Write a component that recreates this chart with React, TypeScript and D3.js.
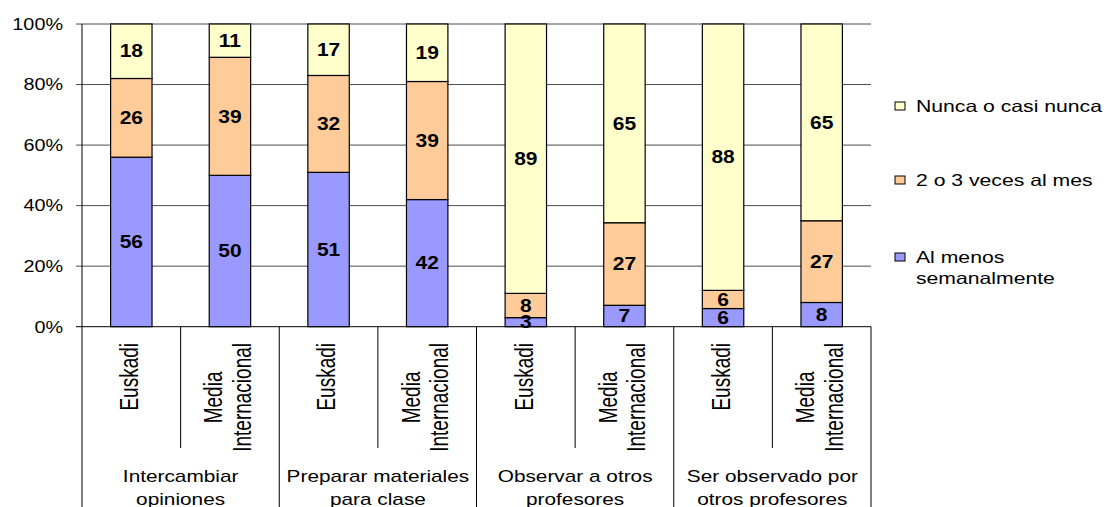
import React, { useEffect, useRef } from 'react';
import * as d3 from 'd3';

// bar labels (one per bar), lines split with \n
const barLabels = [
  'Euskadi', 'Media\nInternacional',
  'Euskadi', 'Media\nInternacional',
  'Euskadi', 'Media\nInternacional',
  'Euskadi', 'Media\nInternacional',
];
const groupLabels = [
  ['Intercambiar', 'opiniones'],
  ['Preparar materiales', 'para clase'],
  ['Observar a otros', 'profesores'],
  ['Ser observado por', 'otros profesores'],
];
const seriesNames = ['Al menos semanalmente', '2 o 3 veces al mes', 'Nunca o casi nunca'];
const semanal = [56, 50, 51, 42, 3, 7, 6, 8];
const mensual = [26, 39, 32, 39, 8, 27, 6, 27];
const nunca = [18, 11, 17, 19, 89, 65, 88, 65];
const yTicks = [0, 0.2, 0.4, 0.6, 0.8, 1];
const colors = ['#9999FF', '#FFCC99', '#FFFFCC'];

const FONT = '"Liberation Sans", Arial, sans-serif';

function Chart() {
  const ref = useRef<SVGSVGElement>(null);

  useEffect(() => {
    const svg = d3.select(ref.current);
    svg.selectAll('*').remove();

    const left = 82, right = 871, top = 24, bottom = 326.7;
    const rows = barLabels.map((b, i) => ({
      key: String(i),
      s0: semanal[i],
      s1: mensual[i],
      s2: nunca[i],
    }));
    const keys = ['s0', 's1', 's2'];
    const raw = [semanal, mensual, nunca];

    const x = d3.scaleBand<string>()
      .domain(rows.map(d => d.key))
      .range([left, right])
      .paddingInner(0.58)
      .paddingOuter(0.29);
    const xs = d3.scaleBand<string>().domain(rows.map(d => d.key)).range([left, right]).padding(0);
    const y = d3.scaleLinear().domain([0, 1]).range([bottom, top]);

    const stacked = d3.stack<any>().keys(keys).offset(d3.stackOffsetExpand)(rows);

    const g = svg.append('g').attr('font-family', FONT);

    // gridlines
    g.append('g')
      .selectAll('line')
      .data(yTicks)
      .enter()
      .append('line')
      .attr('x1', left - 6)
      .attr('x2', right)
      .attr('y1', d => y(d))
      .attr('y2', d => y(d))
      .attr('stroke', d => (d === 0 ? '#000' : '#4d4d4d'))
      .attr('stroke-width', 1);

    // y tick labels
    g.append('g')
      .selectAll('text')
      .data(yTicks)
      .enter()
      .append('text')
      .attr('transform', d => 'translate(63,' + (y(d) + 5.8) + ') scale(1.2,1)')
      .attr('text-anchor', 'end')
      .attr('font-size', 16.5)
      .attr('fill', '#000')
      .text(d => d3.format('.0%')(d));

    // y axis line
    g.append('line')
      .attr('x1', left).attr('x2', left)
      .attr('y1', top).attr('y2', 507)
      .attr('stroke', '#000');

    // category separators
    const seps = d3.range(1, rows.length + 1);
    g.append('g')
      .selectAll('line')
      .data(seps)
      .enter()
      .append('line')
      .attr('x1', i => left + xs.step() * i)
      .attr('x2', i => left + xs.step() * i)
      .attr('y1', bottom)
      .attr('y2', i => (i % 2 === 0 ? 507 : 448))
      .attr('stroke', '#000');

    // bars
    const layer = g.append('g')
      .selectAll('g')
      .data(stacked)
      .enter()
      .append('g')
      .attr('fill', (d, i) => colors[i]);

    layer.selectAll('rect')
      .data(d => d)
      .enter()
      .append('rect')
      .attr('x', d => x(d.data.key)!)
      .attr('width', x.bandwidth())
      .attr('y', d => y(d[1]))
      .attr('height', d => y(d[0]) - y(d[1]))
      .attr('stroke', '#000')
      .attr('stroke-width', 1.2);

    // value labels
    stacked.forEach((s, si) => {
      g.append('g')
        .selectAll('text')
        .data(s)
        .enter()
        .append('text')
        .attr('transform', (d, i) =>
          'translate(' + (x(d.data.key)! + x.bandwidth() / 2) + ',' +
          ((y(d[0]) + y(d[1])) / 2 + 6.2) + ') scale(1.2,1)')
        .attr('text-anchor', 'middle')
        .attr('font-size', 17.5)
        .attr('font-weight', 'bold')
        .attr('fill', '#000')
        .text((d, i) => raw[si][i]);
    });

    // rotated bar labels
    rows.forEach((r, i) => {
      const cx = xs(r.key)! + xs.bandwidth() / 2;
      const lines = barLabels[i].split('\n');
      const lg = g.append('g');
      const texts = lines.map((ln, li) =>
        lg.append('text')
          .attr('x', 0)
          .attr('y', ((li - (lines.length - 1) / 2) * 28 + 6.6) / 1.3)
          .attr('text-anchor', 'middle')
          .attr('font-size', 19)
          .attr('fill', '#000')
          .text(ln)
      );
      const maxLen = d3.max(texts, t => (t.node() as SVGTextElement).getComputedTextLength()) || 0;
      lg.attr('transform', 'translate(' + cx + ',' + (343 + maxLen / 2) + ') scale(1.32,1) rotate(-90)');
    });

    // group labels
    groupLabels.forEach((lines, gi) => {
      const cx = left + xs.step() * (gi * 2 + 1);
      lines.forEach((ln, li) => {
        g.append('text')
          .attr('transform', 'translate(' + cx + ',' + (482 + li * 23) + ') scale(1.3,1)')
          .attr('text-anchor', 'middle')
          .attr('font-size', 16)
          .attr('fill', '#000')
          .text(ln);
      });
    });

    // legend
    const legendItems = [
      { name: seriesNames[2], color: colors[2], y: 106 },
      { name: seriesNames[1], color: colors[1], y: 180 },
      { name: seriesNames[0], color: colors[0], y: 257 },
    ];
    legendItems.forEach(it => {
      g.append('rect')
        .attr('x', 895).attr('y', it.y - 4)
        .attr('width', 10).attr('height', 8)
        .attr('fill', it.color)
        .attr('stroke', '#000')
        .attr('stroke-width', 1);
      const words = it.name === 'Al menos semanalmente' ? ['Al menos', 'semanalmente'] : [it.name];
      words.forEach((w, wi) => {
        g.append('text')
          .attr('transform', 'translate(916,' + (it.y + 5.8 + wi * 21) + ') scale(1.3,1)')
          .attr('font-size', 16.3)
          .attr('fill', '#000')
          .text(w);
      });
    });
  }, []);

  return (
    <svg
      ref={ref}
      width={1107}
      height={507}
      viewBox="0 0 1107 507"
      style={{ position: 'absolute', left: 0, top: 0, display: 'block', background: '#fff' }}
    />
  );
}

export default function App() {
  return <Chart />;
}
